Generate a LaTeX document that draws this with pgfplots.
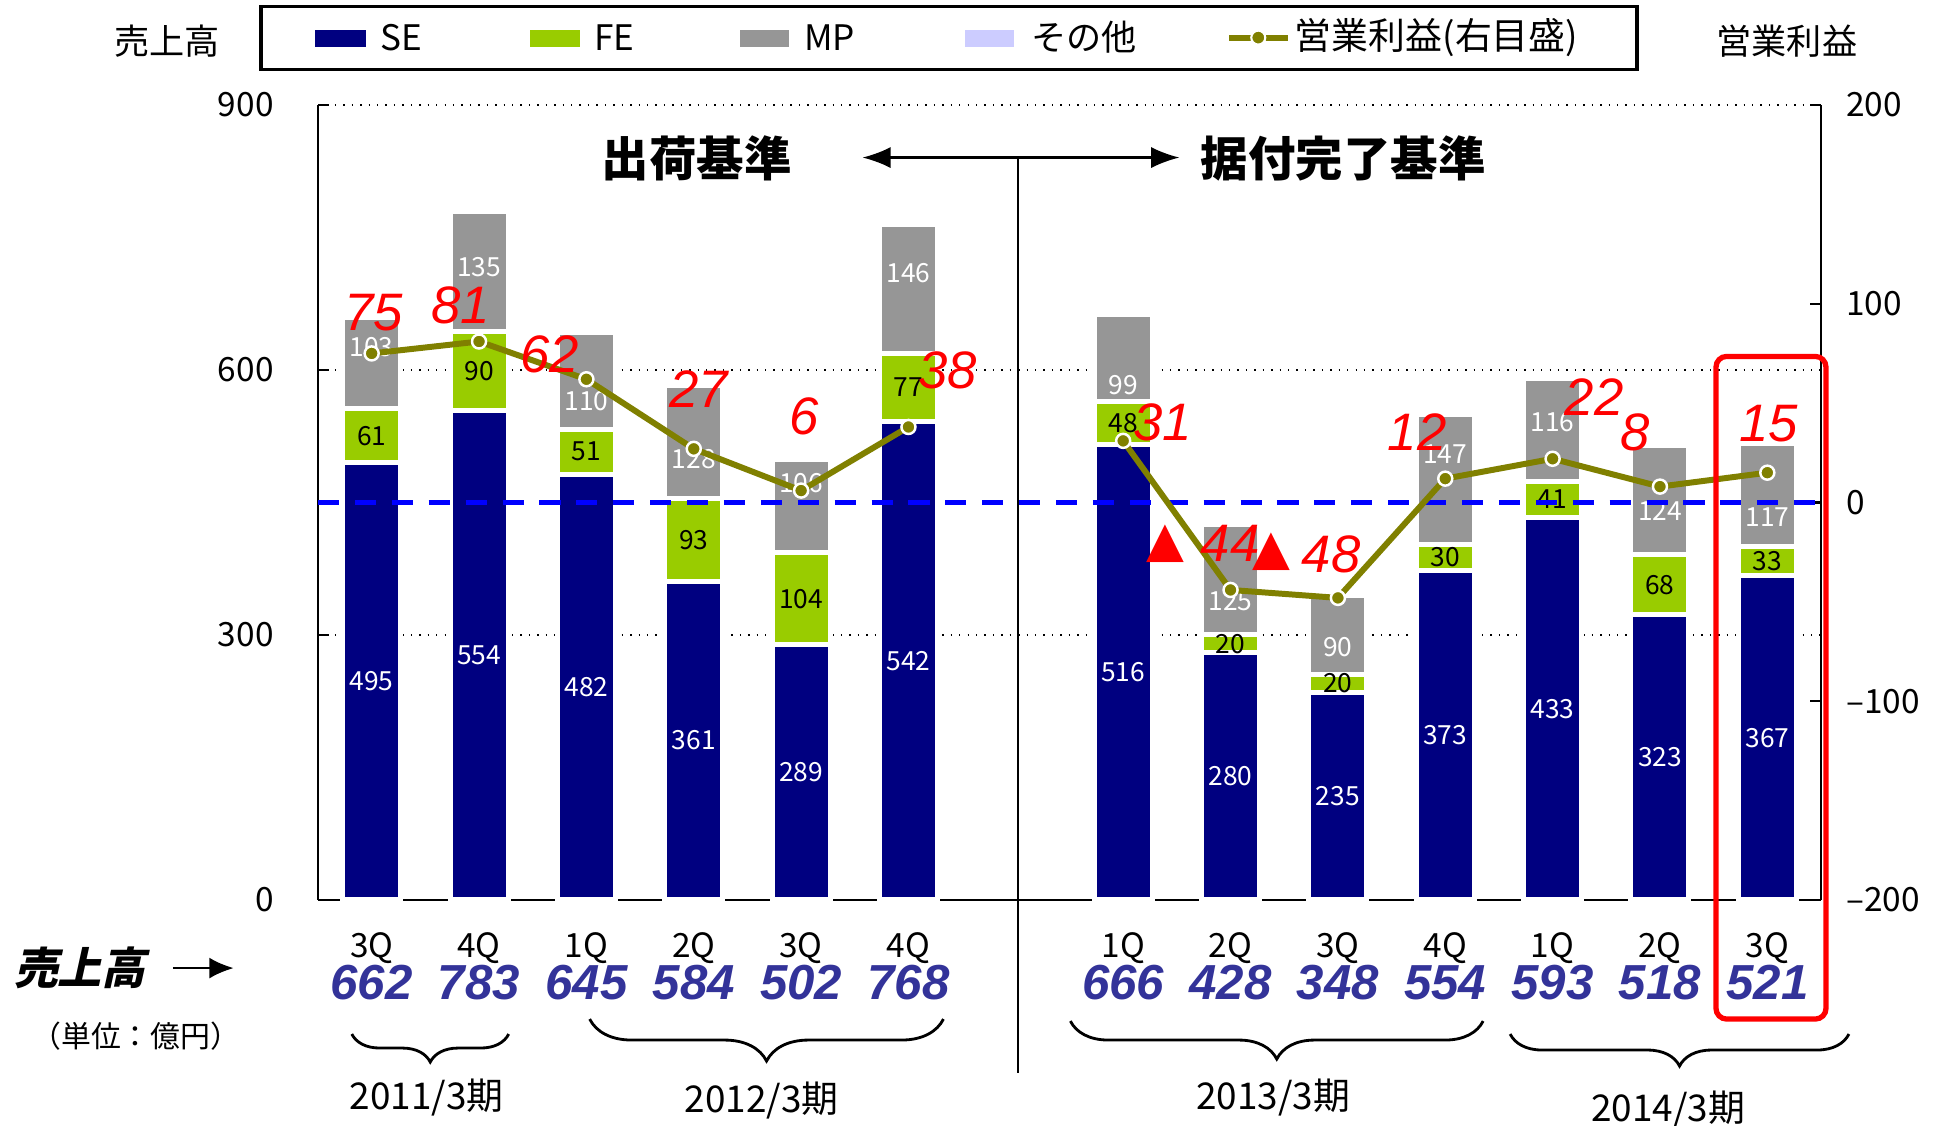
\documentclass[border=0pt]{standalone}
\usepackage{fontspec}
\usepackage{pgfplots}
\pgfplotsset{compat=1.18}
\usepackage{pgfplotstable}
\usetikzlibrary{decorations.pathreplacing, arrows.meta}
\setmainfont{Noto Sans CJK JP}
\newfontfamily\numfont{Liberation Sans}
\newfontfamily\symfont{DejaVu Sans}
\newfontfamily\slantjp{Noto Sans CJK JP}[FakeSlant=0.22]
\definecolor{se}{HTML}{000080}
\definecolor{fe}{HTML}{99CC00}
\definecolor{mp}{HTML}{969696}
\definecolor{ot}{HTML}{CCCCFF}
\definecolor{tot}{HTML}{333399}
\definecolor{prof}{HTML}{808000}
\pgfplotsset{/pgf/number format/assume math mode=true}
% mpl = height at which the MP value is written
\pgfplotstableread{
x SE FE MP OT total profit mpl
0 495 61 103 3 662 75 626
1 554 90 135 4 783 81 717
2 482 51 110 2 645 62 565
3 361 93 128 2 584 27 499
4 289 104 106 3 502 6 472
5 542 77 146 3 768 38 710
7 516 48 99 3 666 31 583
8 280 20 125 3 428 -44 338
9 235 20 90 3 348 -48 286
10 373 30 147 4 554 12 505
11 433 41 116 3 593 22 541
12 323 68 124 3 518 8 440
13 367 33 117 4 521 15 433
}\datatable
\begin{document}
\begin{tikzpicture}
\useasboundingbox (0,0) rectangle (19.34cm,11.26cm);
\pgfplotsset{common/.style={
  at={(3.18cm,2.26cm)}, anchor=south west, scale only axis,
  width=15.03cm, height=7.95cm, xmin=-0.5, xmax=13.5, clip=false,
  tick align=inside, major tick length=3pt,
  axis line style={line width=0.8pt},
}}
% bars
\begin{axis}[common,
  ymin=0, ymax=900,
  ybar stacked, bar width=0.58cm,
  axis x line*=bottom, axis y line*=left,
  xtick={0,1,2,3,4,5,7,8,9,10,11,12,13},
  xticklabels={3Q,4Q,1Q,2Q,3Q,4Q,1Q,2Q,3Q,4Q,1Q,2Q,3Q},
  x tick style={draw=none},
  ytick={0,300,600,900},
  ymajorgrids, grid style={black, dotted, line width=0.7pt},
  y tick style={black, line width=0.6pt},
  yticklabel style={font=\fontsize{9.5}{11}\selectfont, xshift=-0.32cm},
  xticklabel style={font=\fontsize{9.5}{11}\selectfont, yshift=-0.2cm},
]
\addplot[fill=se, draw=white, line width=0.05cm] table[x=x, y=SE] {\datatable};
\addplot[fill=fe, draw=white, line width=0.05cm] table[x=x, y=FE] {\datatable};
\addplot[fill=mp, draw=white, line width=0.05cm] table[x=x, y=MP] {\datatable};
\addplot[fill=ot, draw=white, line width=0.05cm] table[x=x, y=OT] {\datatable};
\end{axis}
% labels on bars and totals
\begin{axis}[common, ymin=0, ymax=900, hide axis]
\addplot[draw=none, mark=none, nodes near coords, point meta=explicit,
  nodes near coords style={anchor=center, white, font=\fontsize{7.5}{9}\selectfont}]
  table[x=x, y expr=\thisrow{SE}/2, meta=SE] {\datatable};
\addplot[draw=none, mark=none, nodes near coords, point meta=explicit,
  nodes near coords style={anchor=center, black, font=\fontsize{7.5}{9}\selectfont}]
  table[x=x, y expr=\thisrow{SE}+\thisrow{FE}/2, meta=FE] {\datatable};
\addplot[draw=none, mark=none, nodes near coords, point meta=explicit,
  nodes near coords style={anchor=center, white, font=\fontsize{7.5}{9}\selectfont}]
  table[x=x, y=mpl, meta=MP] {\datatable};
\addplot[draw=none, mark=none, nodes near coords, point meta=explicit,
  nodes near coords style={anchor=center, tot, yshift=-0.83cm, font=\numfont\bfseries\itshape\fontsize{14}{16}\selectfont}]
  table[x=x, y expr=0, meta=total] {\datatable};
\end{axis}
% profit axis
\begin{axis}[common, ymin=-200, ymax=200,
  axis y line*=right, axis x line=none,
  ytick={-200,-100,0,100,200},
  yticklabels={–200,–100,0,100,200},
  y tick style={black, line width=0.6pt},
  yticklabel style={font=\fontsize{9.5}{11}\selectfont, xshift=0.13cm},
]
\draw[blue, line width=1.4pt, dash pattern=on 6pt off 4.5pt] (axis cs:-0.5,0) -- (axis cs:13.5,0);
\addplot[prof, line width=1.7pt, mark=*, mark size=2pt,
  mark options={fill=prof, draw=white, line width=0.7pt}]
  table[x=x, y=profit, restrict x to domain=0:5] {\datatable};
\addplot[prof, line width=1.7pt, mark=*, mark size=2pt,
  mark options={fill=prof, draw=white, line width=0.7pt}]
  table[x=x, y=profit, restrict x to domain=7:13] {\datatable};
\end{axis}
\begin{scope}[x=0.01cm, y=0.01cm]
% top labels
\node[font=\fontsize{10}{12}\selectfont] at (167,1085) {売上高};
\node[font=\fontsize{10}{12}\selectfont] at (1788,1085) {営業利益};
% legend
\draw[line width=1pt] (261,1057) rectangle (1638,1120);
\fill[se] (315,1080) rectangle (366,1097);
\node[anchor=west, inner sep=0, font=\fontsize{10}{12}\selectfont] at (380,1089) {SE};
\fill[fe] (530,1080) rectangle (580,1097);
\node[anchor=west, inner sep=0, font=\fontsize{10}{12}\selectfont] at (594,1089) {FE};
\fill[mp] (740,1080) rectangle (789,1097);
\node[anchor=west, inner sep=0, font=\fontsize{10}{12}\selectfont] at (804,1089) {MP};
\fill[ot] (966,1080) rectangle (1015,1097);
\node[anchor=west, inner sep=0, font=\fontsize{10}{12}\selectfont] at (1031,1089) {その他};
\draw[prof, line width=1.7pt] (1230,1089) -- (1289,1089);
\filldraw[fill=prof, draw=white, line width=0.6pt] (1259,1089) circle (0.07cm);
\node[anchor=west, inner sep=0, font=\fontsize{10.5}{12}\selectfont] at (1295,1089) {営業利益(右目盛)};
% basis headings
\node[font=\bfseries\fontsize{13.5}{16}\selectfont] at (697,968) {出荷基準};
\node[font=\bfseries\fontsize{13.5}{16}\selectfont] at (1344,968) {据付完了基準};
\draw[{Latex[length=8pt,width=6pt]}-{Latex[length=8pt,width=6pt]}, line width=0.6pt] (863,969) -- (1180,969);
\draw[line width=0.6pt] (1019,969) -- (1019,53);
% profit labels
\begin{scope}[every node/.style={red, font=\numfont\itshape\fontsize{15}{18}\selectfont}]
\node at (374,814) {75};
\node at (461,821) {81};
\node at (550,772) {62};
\node at (699,737) {27};
\node at (805,710) {6};
\node at (948,756) {38};
\node at (1163,704) {31};
\node at (1231,583) {44};
\node at (1332,572) {48};
\node at (1418,694) {12};
\node at (1595,729) {22};
\node at (1636,694) {8};
\node at (1770,703) {15};
\end{scope}
\node[red, font=\symfont\fontsize{14}{16}\selectfont] at (1166,583) {▲};
\node[red, font=\symfont\fontsize{14}{16}\selectfont] at (1272,575) {▲};
% red highlight
\draw[red, line width=1.5pt, rounded corners=3pt] (1717,770) rectangle (1827,107);
% bottom left labels
\node[font=\slantjp\bfseries\fontsize{12.5}{15}\selectfont] at (80,158) {売上高};
\draw[-{Latex[length=7pt,width=6pt]}, line width=0.8pt] (173,158) -- (234,158);
\node[font=\fontsize{8.5}{10}\selectfont] at (136,90) {（単位：億円）};
% braces
\draw[decorate, decoration={brace, mirror, amplitude=0.28cm}, line width=0.8pt] (352,92) -- (509,92);
\draw[decorate, decoration={brace, mirror, amplitude=0.42cm}, line width=0.8pt] (590,107) -- (944,107);
\draw[decorate, decoration={brace, mirror, amplitude=0.38cm}, line width=0.8pt] (1071,105) -- (1484,105);
\draw[decorate, decoration={brace, mirror, amplitude=0.32cm}, line width=0.8pt] (1511,92) -- (1850,92);
\node[font=\fontsize{10.5}{12}\selectfont] at (427,28) {2011/3期};
\node[font=\fontsize{10.5}{12}\selectfont] at (762,25) {2012/3期};
\node[font=\fontsize{10.5}{12}\selectfont] at (1274,28) {2013/3期};
\node[font=\fontsize{10.5}{12}\selectfont] at (1669,16) {2014/3期};
\end{scope}
\end{tikzpicture}
\end{document}
